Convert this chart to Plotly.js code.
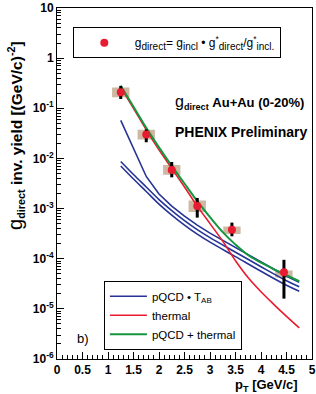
<!DOCTYPE html>
<html>
<head>
<meta charset="utf-8">
<script src="https://cdn.plot.ly/plotly-3.0.1.min.js"></script>
<style>html,body{margin:0;padding:0;background:#fff;}#chart{width:316px;height:394px;}</style>
</head>
<body>
<div id="chart"></div>
<script>
// Measured direct photon points (pT in GeV/c, yield)
const xData  = [1.25, 1.75, 2.25, 2.75, 3.43, 4.45];
const yData  = [0.21, 0.030, 0.0059, 0.00112, 3.77e-4, 5.4e-5];
const errHi  = [0.28, 0.038, 0.0085, 0.00163, 5.25e-4, 9.5e-5];
const errLo  = [0.153, 0.021, 0.0042, 6.6e-4, 2.8e-4, 1.6e-5];
const sysHi  = [0.26, 0.0375, 0.0074, 0.00145, 4.4e-4, 5.85e-5];
const sysLo  = [0.166, 0.0238, 0.0047, 8.5e-4, 3.1e-4, 4.2e-5];

// pQCD * T_AB (three curves)
const pqcdX    = [1.25, 1.5, 1.75, 2.0, 2.25, 2.5, 2.75, 3.0, 3.5, 4.0, 4.5, 4.75];
const pqcdHigh = [0.0575, 0.0158, 0.00437, 0.00195, 0.00112, 7.08e-4, 4.68e-4, 3.24e-4, 1.66e-4, 8.7e-5, 4.47e-5, 3.39e-5];
const pqcdMid  = [8.71e-3, 4.79e-3, 2.69e-3, 1.51e-3, 9.12e-4, 5.75e-4, 3.80e-4, 2.63e-4, 1.35e-4, 6.92e-5, 3.63e-5, 2.75e-5];
const pqcdLow  = [7.08e-3, 3.89e-3, 2.19e-3, 1.23e-3, 7.41e-4, 4.68e-4, 3.09e-4, 2.14e-4, 1.10e-4, 5.62e-5, 2.95e-5, 2.24e-5];

// thermal and pQCD + thermal
const thX     = [1.25, 1.5, 1.75, 2.0, 2.25, 2.5, 2.75, 3.0, 3.25, 3.5, 3.75, 4.0, 4.25, 4.5, 4.75];
const thermal = [0.263, 0.1, 0.0372, 0.0148, 6.31e-3, 2.69e-3, 1.12e-3, 5.01e-4, 2.24e-4, 9.12e-5, 4.17e-5, 2.19e-5, 1.23e-5, 7.08e-6, 4.17e-6];
const total   = [0.282, 0.107, 0.0407, 0.0166, 7.08e-3, 3.16e-3, 1.41e-3, 6.76e-4, 3.39e-4, 1.91e-4, 1.17e-4, 8.32e-5, 6.17e-5, 4.68e-5, 3.55e-5];

// axis ticks
const yTickVals = [1e-6, 1e-5, 1e-4, 1e-3, 1e-2, 1e-1, 1, 10];
const yTickText = ['10<sup>-6</sup>','10<sup>-5</sup>','10<sup>-4</sup>','10<sup>-3</sup>','10<sup>-2</sup>','10<sup>-1</sup>','1','10'];
const xTickVals = [0, 0.5, 1, 1.5, 2, 2.5, 3, 3.5, 4, 4.5, 5];
const xTickText = ['0','0.5','1','1.5','2','2.5','3','3.5','4','4.5','5'];

const BLUE = 'rgb(38,52,150)', RED = 'rgb(232,28,48)', GREEN = 'rgb(22,150,62)';
const FONT = 'Liberation Sans, Arial, Helvetica, sans-serif';

// systematic boxes as filled polygons
const hw = 0.17;
const bx = [], by = [];
for (let i = 0; i < xData.length; i++) {
  bx.push(xData[i]-hw, xData[i]+hw, xData[i]+hw, xData[i]-hw, xData[i]-hw, null);
  by.push(sysLo[i], sysLo[i], sysHi[i], sysHi[i], sysLo[i], null);
}

// minor log ticks
const yMinor = [];
for (let e = -6; e < 1; e++) for (let d = 2; d <= 9; d++) yMinor.push(d * Math.pow(10, e));

const s10 = t => '<span style="font-size:10px">' + t + '</span>';

const traces = [
  {x: bx, y: by, type: 'scatter', mode: 'lines', fill: 'toself', fillcolor: 'rgb(206,184,162)',
   line: {width: 0, color: 'rgba(0,0,0,0)'}, showlegend: false, hoverinfo: 'skip'},
  {x: pqcdX, y: pqcdHigh, type: 'scatter', mode: 'lines', line: {color: BLUE, width: 1.6},
   name: 'pQCD • T<sub>AB</sub>', legend: 'legend2'},
  {x: pqcdX, y: pqcdMid, type: 'scatter', mode: 'lines', line: {color: BLUE, width: 1.6, shape: 'spline'},
   showlegend: false, legend: 'legend2'},
  {x: pqcdX, y: pqcdLow, type: 'scatter', mode: 'lines', line: {color: BLUE, width: 1.6, shape: 'spline'},
   showlegend: false, legend: 'legend2'},
  {x: thX, y: thermal, type: 'scatter', mode: 'lines', line: {color: RED, width: 1.6, shape: 'spline'},
   name: 'thermal', legend: 'legend2'},
  {x: thX, y: total, type: 'scatter', mode: 'lines', line: {color: GREEN, width: 2, shape: 'spline'},
   name: 'pQCD + thermal', legend: 'legend2'},
  {x: xData, y: yData, type: 'scatter', mode: 'markers',
   marker: {color: RED, size: 8, symbol: 'circle'},
   error_y: {type: 'data', symmetric: false,
     array: yData.map((v, i) => errHi[i] - v),
     arrayminus: yData.map((v, i) => v - errLo[i]),
     color: 'black', thickness: 3, width: 0},
   name: 'g<sub>' + s10('direct') + '</sub>= g<sub>' + s10('incl') + '</sub> • g<sup>*</sup><sub>' + s10('direct') +
         '</sub>/g<sup>*</sup><sub>' + s10('incl.') + '</sub>',
   legend: 'legend'}
];

const layout = {
  width: 316, height: 394,
  margin: {l: 57, r: 4, t: 8, b: 35},
  paper_bgcolor: 'white', plot_bgcolor: 'white',
  font: {family: FONT, color: 'black'},
  showlegend: true,
  xaxis: {
    range: [0, 5], showgrid: false, zeroline: false,
    showline: true, mirror: true, linecolor: 'black', linewidth: 1,
    tickmode: 'array', tickvals: xTickVals, ticktext: xTickText,
    ticks: 'inside', ticklen: 7, tickcolor: 'black',
    tickfont: {family: FONT, size: 12, weight: 'bold'},
    minor: {dtick: 0.1, tick0: 0, ticks: 'inside', ticklen: 4, tickcolor: 'black', showgrid: false}
  },
  yaxis: {
    type: 'log', range: [-6, 1], showgrid: false, zeroline: false,
    showline: true, mirror: true, linecolor: 'black', linewidth: 1,
    tickmode: 'array', tickvals: yTickVals, ticktext: yTickText,
    ticks: 'inside', ticklen: 7, tickcolor: 'black', ticklabeloverflow: 'allow',
    tickfont: {family: FONT, size: 12, weight: 'bold'},
    minor: {tickmode: 'array', tickvals: yMinor, ticks: 'inside', ticklen: 4, tickcolor: 'black', showgrid: false}
  },
  legend: {
    x: 0.062, y: 0.945, xanchor: 'left', yanchor: 'top',
    bgcolor: 'white', bordercolor: 'black', borderwidth: 1,
    font: {family: FONT, size: 12}, itemwidth: 51
  },
  legend2: {
    x: 0.184, y: 0.223, xanchor: 'left', yanchor: 'top',
    bgcolor: 'white', bordercolor: 'black', borderwidth: 1,
    font: {family: FONT, size: 11.5}, traceorder: 'normal', itemwidth: 37
  },
  annotations: [
    {xref: 'paper', yref: 'paper', x: -0.165, y: 0.638, xanchor: 'center', yanchor: 'middle', showarrow: false,
     textangle: -90,
     text: '<span style="font-size:20px">g</span><sub><b>direct</b></sub><b> inv. yield [(GeV/c)<sup>-2</sup>]</b>',
     font: {family: FONT, size: 15.5}},
    {xref: 'paper', yref: 'paper', x: 0.455, y: 0.73, xanchor: 'left', yanchor: 'middle', showarrow: false,
     text: '<span style="font-size:16px">g</span><sub><b>direct</b></sub> <b>Au+Au (0-20%)</b>', font: {family: FONT, size: 13}},
    {xref: 'paper', yref: 'paper', x: 0.455, y: 0.648, xanchor: 'left', yanchor: 'middle', showarrow: false,
     text: '<b>PHENIX Preliminary</b>', font: {family: FONT, size: 14}},
    {xref: 'paper', yref: 'paper', x: 0.07, y: 0.059, xanchor: 'left', yanchor: 'middle', showarrow: false,
     text: 'b)', font: {family: FONT, size: 13}},
    {xref: 'paper', yref: 'paper', x: 0.953, y: -0.075, xanchor: 'right', yanchor: 'middle', showarrow: false,
     text: '<b>p<sub>T</sub> [GeV/c]</b>', font: {family: FONT, size: 13}}
  ]
};

Plotly.newPlot('chart', traces, layout, {displayModeBar: false, staticPlot: true});
</script>
</body>
</html>
